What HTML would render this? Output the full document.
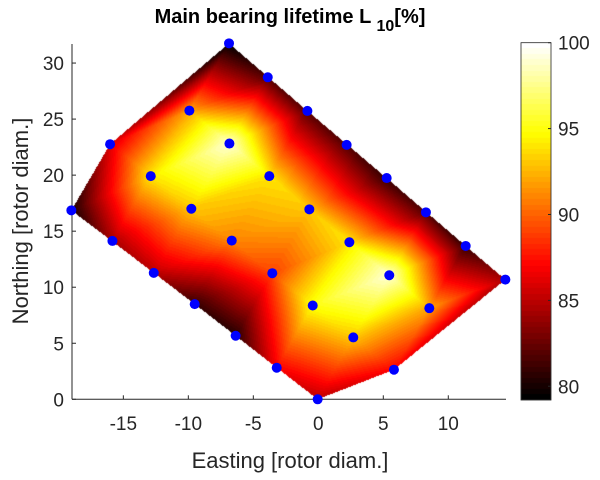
<!DOCTYPE html>
<html><head><meta charset="utf-8"><style>
body{margin:0;background:#fff;}
#wrap{position:relative;width:600px;height:480px;overflow:hidden;font-family:"Liberation Sans",sans-serif;color:#262626;}
</style></head><body>
<div id="wrap">
<canvas id="heat" width="600" height="480" style="position:absolute;left:0;top:0"></canvas>
<svg id="svg" width="600" height="480" style="position:absolute;left:0;top:0"></svg>
</div>
<script>
const xs=[-6.87,-3.89,-0.84,2.18,5.26,8.28,11.34,14.39,-9.92,-6.84,-3.77,-0.69,2.39,5.46,8.54,-16.02,-12.89,-9.77,-6.66,-3.54,-0.43,2.69,5.82,-19.0,-15.84,-12.66,-9.51,-6.36,-3.20,-0.05];
const ys=[31.76,28.73,25.73,22.70,19.74,16.68,13.68,10.68,25.76,22.82,19.91,16.95,14.01,11.07,8.13,22.76,19.91,17.00,14.16,11.25,8.37,5.52,2.64,16.86,14.13,11.28,8.49,5.67,2.82,0.0];
const vals=[79.3,82,82,82,81,82,81,84.5,92,99,94,93,94,99,92,86,94,93,91,89,95,93,87,80,84.5,85,81,80.5,87,85];
const xTicks=[-15,-10,-5,0,5,10];
const yTicks=[0,5,10,15,20,25,30];
const cTicks=[80,85,90,95,100];
const X0=72,X1=506,Y0=44,Y1=399.3;
const xmin=-18.95,xmax=14.44,ymin=0,ymax=31.7;
const cmin=79.2,cmax=100;
function sx(v){return X0+(v-xmin)/(xmax-xmin)*(X1-X0);}
function sy(v){return Y1-(v-ymin)/(ymax-ymin)*(Y1-Y0);}
function hot(t){t=Math.max(0,Math.min(1,t));let k=Math.min(63,Math.floor(t*64));t=k/63;
 return [Math.min(1,t/0.375),Math.max(0,Math.min(1,(t-0.375)/0.375)),Math.max(0,Math.min(1,(t-0.75)/0.25))].map(c=>Math.round(c*255));}
const P=xs.map((x,i)=>[sx(x),sy(ys[i]),vals[i]]);
function circ(a,b,c){const ax=a[0],ay=a[1],bx=b[0],by=b[1],cx=c[0],cy=c[1];
 const d=2*(ax*(by-cy)+bx*(cy-ay)+cx*(ay-by));
 const ux=((ax*ax+ay*ay)*(by-cy)+(bx*bx+by*by)*(cy-ay)+(cx*cx+cy*cy)*(ay-by))/d;
 const uy=((ax*ax+ay*ay)*(cx-bx)+(bx*bx+by*by)*(ax-cx)+(cx*cx+cy*cy)*(bx-ax))/d;
 return [ux,uy,(ax-ux)**2+(ay-uy)**2];}
const pts=P.concat([[-5000,-5000],[5000,-5000],[0,5000]]);
const N=P.length;
let tris=[[N,N+1,N+2]];
for(let i=0;i<N;i++){const p=pts[i];const bad=[],keep=[];
 for(const t of tris){const c=circ(pts[t[0]],pts[t[1]],pts[t[2]]);
  if((p[0]-c[0])**2+(p[1]-c[1])**2<c[2])bad.push(t);else keep.push(t);}
 const edges=[];
 for(const t of bad){for(const e of [[t[0],t[1]],[t[1],t[2]],[t[2],t[0]]]){
  const idx=edges.findIndex(f=>(f[0]==e[1]&&f[1]==e[0])||(f[0]==e[0]&&f[1]==e[1]));
  if(idx>=0)edges.splice(idx,1);else edges.push(e);}}
 for(const e of edges)keep.push([e[0],e[1],i]);
 tris=keep;}
tris=tris.filter(t=>t[0]<N&&t[1]<N&&t[2]<N);
const cv=document.getElementById('heat'),ctx=cv.getContext('2d');
const img=ctx.createImageData(600,480);
for(const t of tris){const a=P[t[0]],b=P[t[1]],c=P[t[2]];
 const minx=Math.floor(Math.min(a[0],b[0],c[0])),maxx=Math.ceil(Math.max(a[0],b[0],c[0]));
 const miny=Math.floor(Math.min(a[1],b[1],c[1])),maxy=Math.ceil(Math.max(a[1],b[1],c[1]));
 const den=(b[1]-c[1])*(a[0]-c[0])+(c[0]-b[0])*(a[1]-c[1]);
 for(let y=miny;y<=maxy;y++)for(let x=minx;x<=maxx;x++){const px=x+0.5,py=y+0.5;
  const l1=((b[1]-c[1])*(px-c[0])+(c[0]-b[0])*(py-c[1]))/den;
  const l2=((c[1]-a[1])*(px-c[0])+(a[0]-c[0])*(py-c[1]))/den;
  const l3=1-l1-l2;
  if(l1<-1e-6||l2<-1e-6||l3<-1e-6)continue;
  const v=l1*a[2]+l2*b[2]+l3*c[2];
  const col=hot((v-cmin)/(cmax-cmin));const o=(y*600+x)*4;
  img.data[o]=col[0];img.data[o+1]=col[1];img.data[o+2]=col[2];img.data[o+3]=255;}}
const CB0=521,CB1=551,CBT=42.7,CBB=400;
for(let y=Math.ceil(CBT);y<CBB;y++){const v=cmax-(y+0.5-CBT)/(CBB-CBT)*(cmax-cmin);const col=hot((v-cmin)/(cmax-cmin));
 for(let x=CB0;x<CB1;x++){const o=(y*600+x)*4;img.data[o]=col[0];img.data[o+1]=col[1];img.data[o+2]=col[2];img.data[o+3]=255;}}
ctx.putImageData(img,0,0);
const svg=document.getElementById('svg');const NS='http://www.w3.org/2000/svg';
function mk(tag,attrs,name,txt){const e=document.createElementNS(NS,tag);for(const k in attrs)e.setAttribute(k,attrs[k]);
 
 
 if(txt!==undefined)e.textContent=txt;svg.appendChild(e);return e;}
mk('line',{x1:X0,y1:Y1,x2:X1,y2:Y1,stroke:'#262626','stroke-width':1},'x-axis-line');
mk('line',{x1:X0,y1:Y1,x2:X0,y2:Y0,stroke:'#262626','stroke-width':1},'y-axis-line');
xTicks.forEach(v=>{const x=sx(v);mk('line',{x1:x,y1:Y1,x2:x,y2:Y1-4,stroke:'#262626'},'x-tick');
 mk('text',{x:x,y:430,'text-anchor':'middle','font-size':19,fill:'#262626'},'x-tick-label',String(v));});
yTicks.forEach(v=>{const y=sy(v);mk('line',{x1:X0,y1:y,x2:X0+4,y2:y,stroke:'#262626'},'y-tick');
 mk('text',{x:64,y:y+7,'text-anchor':'end','font-size':19,fill:'#262626'},'y-tick-label',String(v));});
mk('text',{x:290,y:468,'text-anchor':'middle','font-size':22,fill:'#262626'},'x-axis-title','Easting [rotor diam.]');
mk('text',{x:0,y:0,'text-anchor':'middle','font-size':22,fill:'#262626',transform:'translate(28,221) rotate(-90)'},'y-axis-title','Northing [rotor diam.]');
const tt=mk('text',{x:290,y:23,'text-anchor':'middle','font-size':20,'font-weight':'bold',fill:'#000'},'chart-title');
tt.innerHTML='Main bearing lifetime L <tspan font-size="16" dy="8">10</tspan><tspan dy="-8">[%]</tspan>';
for(let i=0;i<N;i++)mk('circle',{cx:P[i][0],cy:P[i][1],r:5,fill:'#0000ff'},'turbine-point');
mk('rect',{x:CB0,y:CBT,width:CB1-CB0,height:CBB-CBT,fill:'none',stroke:'#262626','stroke-width':0.8},'colorbar');
cTicks.forEach(v=>{const y=CBT+(cmax-v)/(cmax-cmin)*(CBB-CBT);
 mk('line',{x1:CB1,y1:y,x2:CB1-3,y2:y,stroke:'#262626'},'colorbar-tick');
 mk('text',{x:558,y:y+7,'font-size':19,fill:'#262626'},'colorbar-tick-label',String(v));});
</script>
</body></html>
